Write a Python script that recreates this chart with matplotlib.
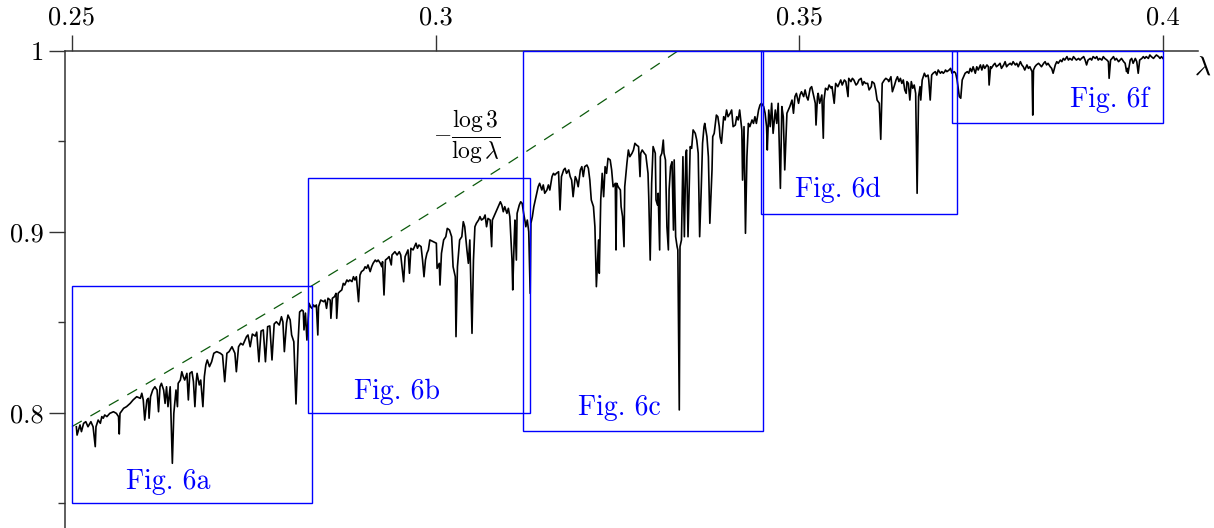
import matplotlib
matplotlib.use('Agg')
import matplotlib.pyplot as plt
from matplotlib.patches import Rectangle

# spectrum values, split in pieces along lambda
lam_1 = [.2506, .2507, .2511, .2513, .2516, .2519, .2522, .2526, .2529, .2532,
         .2533, .2536, .2539, .2541, .2543, .2545, .2548, .2552, .2557, .2561,
         .2564, .2565, .2566, .2571, .2575, .2580, .2584, .2589, .2594, .2596,
         .2598, .2600, .2603, .2605, .2606, .2608, .2611, .2614, .2617, .2619,
         .2621, .2623, .2626, .2628, .2630, .2632, .2635, .2636, .2638, .2640,
         .2643, .2645, .2646, .2649, .2651, .2653, .2655, .2658, .2660, .2662,
         .2665, .2667, .2669, .2671, .2672, .2675, .2677, .2680, .2682, .2684,
         .2686, .2689, .2692, .2695, .2699, .2704, .2707, .2710, .2713, .2716,
         .2720, .2722, .2724, .2726, .2729, .2732, .2735, .2738]
val_1 = [.7924, .7878, .7934, .7897, .7943, .7952, .7924, .7952, .7924, .7814,
         .7924, .7961, .7943, .7980, .7971, .7989, .7980, .7998, .8007, .7998,
         .7980, .7884, .7998, .8026, .8035, .8053, .8072, .8090, .8081, .8109,
         .8072, .7961, .8072, .8081, .7971, .8090, .8127, .8145, .8127, .8007,
         .8145, .8164, .8127, .8053, .8145, .8035, .8145, .7998, .7722, .7998,
         .8127, .8035, .8164, .8182, .8228, .8201, .8182, .8219, .8072, .8219,
         .8228, .8173, .8035, .8182, .8219, .8155, .8182, .8035, .8201, .8265,
         .8293, .8256, .8283, .8330, .8339, .8330, .8320, .8173, .8330, .8339,
         .8366, .8348, .8330, .8228, .8366, .8385, .8376, .8403]

lam_2 = [.2740, .2742, .2745, .2748, .2752, .2754, .2757, .2760, .2763, .2766,
         .2769, .2772, .2775, .2778, .2781, .2785, .2788, .2790, .2792, .2795,
         .2797, .2800, .2802, .2805, .2808, .2811, .2813, .2816, .2818, .2819,
         .2821, .2823, .2826, .2828, .2830, .2832, .2834, .2836, .2838, .2839,
         .2842, .2846, .2848, .2850, .2852, .2855, .2856, .2858, .2861, .2863,
         .2864, .2866, .2868, .2871, .2873, .2875, .2878, .2880, .2882, .2885,
         .2887, .2889, .2891, .2894, .2896, .2898, .2901, .2903, .2905, .2907,
         .2910, .2912, .2914, .2917, .2919, .2921, .2924, .2926, .2927, .2929,
         .2931, .2934, .2936, .2939, .2940, .2944, .2947, .2950, .2952, .2956,
         .2958, .2960, .2962, .2964, .2966, .2969, .2973, .2975, .2977, .2980,
         .2982, .2984, .2986, .2988, .2990]
val_2 = [.8422, .8431, .8366, .8436, .8425, .8447, .8283, .8453, .8459, .8283,
         .8477, .8481, .8293, .8492, .8504, .8486, .8532, .8503, .8339, .8497,
         .8541, .8514, .8431, .8394, .8050, .8403, .8558, .8569, .8563, .8459,
         .8552, .8403, .8606, .8587, .8578, .8597, .8587, .8597, .8431, .8587,
         .8624, .8615, .8624, .8578, .8634, .8624, .8523, .8634, .8643, .8661,
         .8523, .8661, .8670, .8680, .8716, .8707, .8735, .8726, .8735, .8726,
         .8753, .8735, .8753, .8615, .8762, .8781, .8790, .8808, .8799, .8818,
         .8781, .8808, .8827, .8845, .8836, .8845, .8827, .8808, .8836, .8652,
         .8845, .8855, .8864, .8818, .8873, .8891, .8873, .8891, .8873, .8725,
         .8864, .8882, .8901, .8772, .8910, .8901, .8938, .8910, .8928, .8919,
         .8845, .8753, .8845, .8882, .8901]

lam_3 = [.2992, .2997, .3001, .3002, .3005, .3006, .3008, .3011, .3014, .3016,
         .3019, .3022, .3024, .3027, .3028, .3030, .3033, .3036, .3038, .3040,
         .3043, .3045, .3047, .3050, .3052, .3054, .3056, .3059, .3061, .3063,
         .3066, .3068, .3070, .3072, .3075, .3077, .3078, .3082, .3084, .3086,
         .3089, .3091, .3093, .3095, .3098, .3100, .3102, .3105, .3106, .3108,
         .3109, .3111, .3112, .3115, .3117, .3119, .3121, .3123, .3124, .3126,
         .3128, .3130, .3131, .3133, .3135, .3138, .3141, .3143, .3146, .3148,
         .3150, .3153, .3155, .3157, .3160, .3162, .3164, .3166, .3169, .3171,
         .3173, .3176, .3178, .3180, .3183, .3185, .3187, .3189, .3192, .3194,
         .3196, .3199, .3201, .3203, .3205, .3208, .3210, .3212, .3214, .3217,
         .3219, .3221, .3224, .3225, .3227, .3229, .3231]
val_3 = [.8956, .8946, .8938, .8799, .8827, .8707, .8882, .8956, .8974, .9020,
         .9011, .8974, .8808, .8753, .8422, .8808, .8956, .8974, .9057, .9029,
         .8901, .8827, .8956, .8440, .8845, .9029, .9048, .9066, .9085, .9066,
         .9075, .9094, .9029, .9075, .9066, .8919, .9066, .9103, .9122, .9140,
         .9167, .9149, .9112, .9140, .9103, .9131, .9085, .8845, .8680, .8956,
         .9066, .8845, .9103, .9149, .9167, .9158, .9103, .9057, .9029, .9066,
         .9002, .8661, .9048, .9085, .9140, .9195, .9250, .9269, .9232, .9260,
         .9214, .9232, .9260, .9232, .9306, .9324, .9315, .9324, .9333, .9122,
         .9306, .9343, .9352, .9324, .9343, .9306, .9287, .9195, .9306, .9287,
         .9250, .9343, .9361, .9306, .9361, .9370, .9352, .9287, .9177, .9140,
         .9029, .8698, .8956, .8772, .9177, .9324, .9195]

lam_4 = [.3233, .3235, .3237, .3240, .3242, .3244, .3247, .3248, .3249, .3251,
         .3254, .3255, .3257, .3259, .3260, .3263, .3265, .3267, .3270, .3272,
         .3274, .3276, .3279, .3281, .3282, .3284, .3287, .3289, .3292, .3293,
         .3295, .3297, .3299, .3302, .3303, .3305, .3306, .3308, .3309, .3311,
         .3313, .3314, .3316, .3318, .3320, .3321, .3323, .3325, .3327, .3328,
         .3330, .3332, .3333, .3335, .3336, .3338, .3340, .3342, .3344, .3345,
         .3347, .3350, .3352, .3354, .3357, .3359, .3361, .3363, .3365, .3367,
         .3369, .3370, .3373, .3375, .3377, .3380, .3381, .3383, .3386, .3388,
         .3390, .3391, .3393, .3396, .3398, .3400, .3402, .3405, .3407, .3409,
         .3412, .3414, .3416, .3418, .3421, .3422, .3424, .3426, .3428, .3430,
         .3432, .3435, .3437, .3439, .3441, .3444, .3446, .3448, .3451, .3453,
         .3455, .3456, .3458, .3460, .3462, .3464, .3467, .3469, .3471, .3474,
         .3476, .3478, .3480, .3483, .3485, .3487]
val_4 = [.9361, .9324, .9407, .9398, .9343, .9250, .9269, .8901, .9269, .9250,
         .9232, .9140, .9085, .8919, .9250, .9380, .9453, .9416, .9435, .9453,
         .9490, .9481, .9472, .9306, .9435, .9453, .9435, .9425, .9324, .9195,
         .8845, .9269, .9472, .9435, .9177, .9149, .9214, .8901, .9416, .9435,
         .9508, .9435, .9398, .9029, .8901, .9232, .9361, .9388, .9011, .9398,
         .8974, .8919, .8901, .8017, .8919, .8956, .9416, .8974, .9435, .9453,
         .8974, .9472, .9462, .9564, .9545, .9508, .9435, .8974, .9214, .9490,
         .9582, .9600, .9527, .9416, .9048, .9343, .9527, .9545, .9646, .9637,
         .9582, .9527, .9490, .9637, .9619, .9674, .9637, .9656, .9674, .9582,
         .9591, .9637, .9619, .9674, .9564, .9287, .9582, .8993, .9416, .9600,
         .9582, .9619, .9600, .9637, .9600, .9674, .9702, .9711, .9693, .9656,
         .9582, .9453, .9674, .9582, .9711, .9545, .9674, .9600, .9711, .9241,
         .9693, .9637, .9343, .9656, .9674, .9693]

lam_5 = [.3490, .3492, .3494, .3496, .3499, .3501, .3503, .3506, .3508, .3510,
         .3512, .3515, .3517, .3519, .3522, .3523, .3525, .3526, .3528, .3531,
         .3533, .3534, .3536, .3539, .3541, .3544, .3545, .3548, .3550, .3553,
         .3555, .3557, .3559, .3562, .3564, .3567, .3568, .3571, .3573, .3575,
         .3578, .3580, .3582, .3585, .3587, .3589, .3591, .3594, .3596, .3599,
         .3600, .3603, .3605, .3607, .3610, .3612, .3614, .3617, .3619, .3622,
         .3623, .3626, .3628, .3631, .3633, .3635, .3637, .3639, .3641, .3643,
         .3645, .3647, .3648, .3650, .3652, .3654, .3656, .3658, .3660, .3662,
         .3664, .3666, .3667, .3669, .3672, .3674, .3677, .3678, .3680, .3682,
         .3684, .3687, .3689, .3691, .3694, .3696, .3698, .3700, .3701, .3703,
         .3706, .3708, .3710, .3713, .3715, .3717, .3720, .3722, .3724, .3726,
         .3728, .3731]
val_5 = [.9729, .9656, .9748, .9766, .9711, .9757, .9775, .9748, .9785, .9748,
         .9729, .9794, .9803, .9766, .9711, .9591, .9748, .9766, .9711, .9757,
         .9518, .9729, .9794, .9785, .9812, .9794, .9803, .9711, .9821, .9803,
         .9821, .9840, .9812, .9840, .9831, .9748, .9849, .9831, .9849, .9840,
         .9812, .9821, .9840, .9849, .9812, .9831, .9821, .9821, .9785, .9803,
         .9831, .9821, .9785, .9729, .9711, .9512, .9821, .9840, .9849, .9840,
         .9831, .9858, .9775, .9812, .9840, .9858, .9831, .9849, .9821, .9840,
         .9785, .9766, .9831, .9821, .9729, .9831, .9794, .9812, .9766, .9214,
         .9748, .9803, .9729, .9840, .9877, .9858, .9867, .9840, .9729, .9867,
         .9877, .9886, .9867, .9895, .9877, .9886, .9877, .9886, .9895, .9886,
         .9895, .9904, .9877, .9886, .9877, .9840, .9748, .9739, .9840, .9858,
         .9877, .9886]

lam_6 = [.3733, .3735, .3737, .3739, .3742, .3744, .3746, .3749, .3751, .3753,
         .3755, .3758, .3760, .3761, .3763, .3764, .3767, .3769, .3771, .3774,
         .3776, .3778, .3781, .3783, .3785, .3787, .3790, .3792, .3794, .3797,
         .3799, .3801, .3804, .3806, .3808, .3810, .3813, .3815, .3817, .3820,
         .3821, .3822, .3824, .3826, .3829, .3831, .3833, .3836, .3838, .3840,
         .3842, .3845, .3847, .3849, .3852, .3854, .3856, .3859, .3861, .3863,
         .3865, .3868, .3870, .3872, .3875, .3877, .3879, .3881, .3884, .3886,
         .3888, .3891, .3893, .3895, .3897, .3900, .3902, .3904, .3907, .3909,
         .3911, .3913, .3916, .3918, .3920, .3923, .3925, .3926, .3928, .3930,
         .3932, .3934, .3936, .3939, .3941, .3943, .3946, .3948, .3950, .3951,
         .3952, .3955, .3957, .3959, .3962, .3964, .3966, .3968, .3971, .3973,
         .3975, .3977, .3980, .3982, .3984, .3987, .3989, .3991, .3994, .3996,
         .3998, .4000]
val_6 = [.9877, .9904, .9886, .9913, .9877, .9913, .9895, .9923, .9895, .9923,
         .9904, .9923, .9913, .9812, .9913, .9904, .9923, .9932, .9913, .9923,
         .9932, .9904, .9923, .9941, .9913, .9923, .9932, .9923, .9941, .9923,
         .9932, .9913, .9941, .9923, .9913, .9895, .9923, .9904, .9913, .9886,
         .9646, .9895, .9913, .9923, .9932, .9923, .9913, .9932, .9941, .9923,
         .9932, .9913, .9904, .9877, .9923, .9941, .9932, .9950, .9941, .9959,
         .9950, .9969, .9950, .9959, .9950, .9969, .9959, .9950, .9959, .9950,
         .9959, .9969, .9950, .9923, .9950, .9959, .9950, .9969, .9959, .9969,
         .9950, .9959, .9950, .9969, .9959, .9950, .9941, .9849, .9950, .9959,
         .9969, .9950, .9959, .9941, .9950, .9959, .9941, .9932, .9886, .9904,
         .9877, .9950, .9959, .9932, .9959, .9941, .9877, .9950, .9959, .9969,
         .9959, .9969, .9959, .9978, .9969, .9959, .9969, .9978, .9969, .9959,
         .9969, .9959]

# -log 3 / log lambda (dashed)
bound_lam = [0.25, 0.26, 0.27, 0.28, 0.29, 0.30, 0.31, 0.32, 0.3333]
bound_val = [0.7925, 0.8155, 0.8391, 0.8630, 0.8875, 0.9125, 0.9380, 0.9642, 1.0]

# zoom boxes
box_names = ['Fig. 6a', 'Fig. 6b', 'Fig. 6c', 'Fig. 6d', 'Fig. 6f']
box_x0 = [0.250, 0.2825, 0.312, 0.3447, 0.371]
box_x1 = [0.283, 0.313, 0.345, 0.3717, 0.400]
box_y0 = [0.75, 0.80, 0.79, 0.91, 0.96]
box_y1 = [0.87, 0.93, 1.00, 1.00, 1.00]
label_x = [0.2633, 0.2947, 0.3253, 0.3553, 0.3927]
label_y = [0.758, 0.8076, 0.7989, 0.9195, 0.9692]

x_ticks = [0.25, 0.3, 0.35, 0.4]
x_labels = ['0.25', '0.3', '0.35', '0.4']
y_ticks = [0.8, 0.9, 1.0]
y_labels = ['0.8', '0.9', '1']
y_minor = [0.75, 0.85, 0.95]

plt.rcParams['font.family'] = 'cmr10'
plt.rcParams['mathtext.fontset'] = 'cm'
plt.rcParams['axes.formatter.use_mathtext'] = True

lam = lam_1 + lam_2 + lam_3 + lam_4 + lam_5 + lam_6
val = val_1 + val_2 + val_3 + val_4 + val_5 + val_6

fig = plt.figure(figsize=(12.14, 5.28), dpi=100)
ax = fig.add_axes([65 / 1214, 0, 1133 / 1214, 477 / 528])

ax.plot(lam, val, color='black', lw=1.2, zorder=2)
ax.plot(bound_lam, bound_val, color='#0b5a0b', lw=0.9, dashes=(9, 8), zorder=2)

for x0, x1, y0, y1 in zip(box_x0, box_x1, box_y0, box_y1):
    ax.add_patch(Rectangle((x0, y0), x1 - x0, y1 - y0, fill=False,
                           ec='#0000ff', lw=1.0, zorder=3, clip_on=False))
for name, lx, ly in zip(box_names, label_x, label_y):
    ax.text(lx, ly, name, color='#0000ff', fontsize=20, ha='center', va='baseline')

ax.text(0.3043, 0.9525, r'$-\dfrac{\log 3}{\log \lambda}$', fontsize=17,
        ha='center', va='center')
ax.text(0.4055, 0.9867, r'$\lambda$', fontsize=20, ha='center', va='baseline',
        clip_on=False)

ax.set_xlim(0.24904, 0.40482)
ax.set_ylim(0.73646, 1.0)

for side in ['bottom', 'right']:
    ax.spines[side].set_visible(False)
for side in ['top', 'left']:
    ax.spines[side].set_color('#333333')
    ax.spines[side].set_linewidth(1.1)

ax.xaxis.tick_top()
ax.set_xticks(x_ticks)
ax.set_xticklabels(x_labels)
ax.set_yticks(y_ticks)
ax.set_yticklabels(y_labels)
ax.set_yticks(y_minor, minor=True)
ax.tick_params(axis='x', which='major', direction='out', length=11.5, width=1.0,
               color='#333333', pad=4, labelsize=19)
ax.tick_params(axis='y', which='major', direction='out', length=11.5, width=1.0,
               color='#333333', pad=4, labelsize=19)
ax.tick_params(axis='y', which='minor', direction='out', length=5, width=1.0,
               color='#333333')

fig.savefig('out.png', dpi=100)
